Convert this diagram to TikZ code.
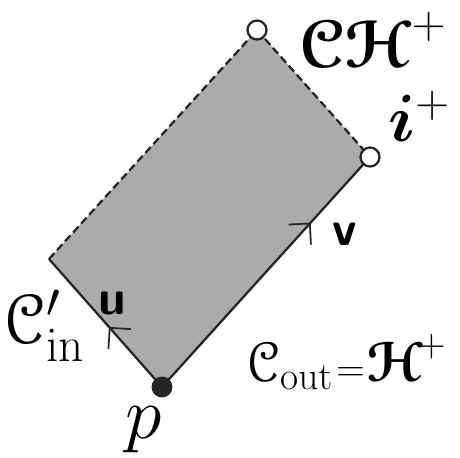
\RequirePackage{fix-cm}
\documentclass[tikz,border=0pt]{standalone}
\usepackage{amsmath,amssymb,bm}
\usepackage[mathcal]{eucal}
\usetikzlibrary{arrows.meta,decorations.markings}
\definecolor{bhgray}{HTML}{ABABAB}
\definecolor{bhdark}{HTML}{262626}

\tikzset{
  hole/.style={circle,draw=bhdark,line width=1.3pt,fill=white,minimum size=0.38cm,inner sep=0pt},
  event/.style={circle,fill=bhdark,minimum size=0.42cm,inner sep=0pt},
  nullray/.style={draw=bhdark,line width=1.3pt},
  horizon/.style={nullray,dash pattern=on 4.5pt off 2.3pt},
  flow/.style={postaction={decorate,decoration={markings,
      mark=at position #1 with {\arrow[line width=1pt]{Straight Barb[length=0.3cm,width=0.6cm]}}}}}
}

\begin{document}
\begin{tikzpicture}[x=0.02cm,y=-0.02cm]
    \useasboundingbox (0,0) rectangle (460,457);
    % corners of the region
    \coordinate (p) at (162,387);
    \coordinate (L) at (49,259);
    \coordinate (T) at (257,30);
    \coordinate (R) at (370,157);
    \fill[bhgray] (p) -- (L) -- (T) -- (R) -- cycle;
    \draw[nullray,flow=0.47] (p) -- (L);
    \draw[nullray,flow=0.715] (p) -- (R);
    \draw[horizon] (L) -- (T);
    \draw[horizon] (T) -- (R);
    \node[event] (pdot) at (p) {};
    \node[hole] (top) at (T) {};
    \node[hole] (iplus) at (R) {};
    % labels
    \node[font=\fontsize{42}{46}\selectfont] (plabel) at (144,430) {$p$};
    \node[font=\fontsize{28}{32}\selectfont\sffamily\bfseries] (ulabel) at (112,303) {u};
    \node[font=\fontsize{28}{32}\selectfont\sffamily\bfseries] (vlabel) at (345,234) {v};
    \node[font=\fontsize{40}{44}\selectfont] (cin) at (44,326) {$\mathcal{C}'_{\mathrm{in}}$};
    \node[font=\fontsize{38}{42}\selectfont,inner sep=1pt] (chplus) at (373,40) {$\bm{\mathcal{C}\mathcal{H}}^{+}$};
    \node[font=\fontsize{38}{42}\selectfont] (ilabel) at (419,116) {$\bm{i}^{+}$};
    \node[font=\fontsize{32}{36}\selectfont,anchor=west,inner sep=0pt] (cout) at (246,362)
      {$\mathcal{C}_{\mathrm{out}}\mkern1mu{\scriptstyle=}\mkern1mu\bm{\mathcal{H}}^{\!+}$};
  \end{tikzpicture}
\end{document}
